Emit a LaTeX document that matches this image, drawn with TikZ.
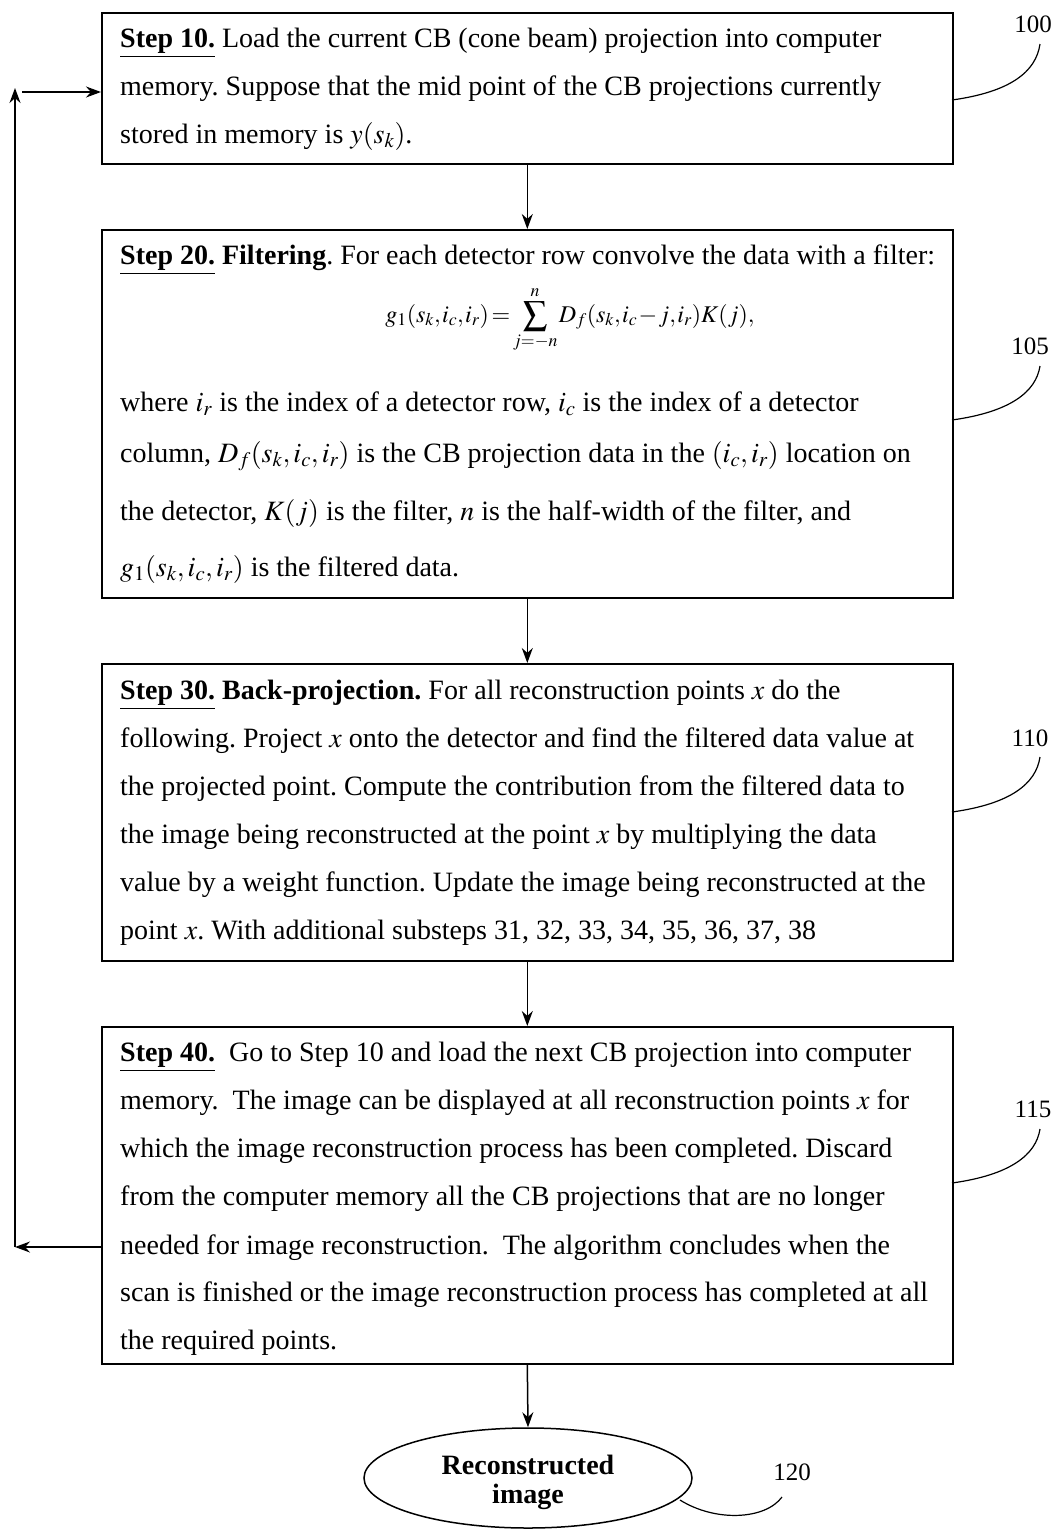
\documentclass[tikz,border=0pt]{standalone}
\usepackage{mathptmx}
\usepackage{fontspec}
\setmainfont{Liberation Serif}
\usetikzlibrary{arrows.meta,shapes.geometric}
\frenchspacing
\begin{document}
\begin{tikzpicture}[x=1pt,y=-1pt,
  box/.style={draw, line width=1.6pt, minimum width=851pt, anchor=north west, inner sep=0pt},
  ln/.style={anchor=base west, inner sep=0pt, font=\fontsize{28}{32}\selectfont},
  arr/.style={-{Stealth[length=15pt,width=11pt]}, line width=1.5pt},
  lead/.style={line width=1.2pt},
  refl/.style={font=\fontsize{25}{30}\selectfont, inner sep=0pt},
  etext/.style={font=\fontsize{28}{32}\selectfont\bfseries, inner sep=0pt}]
\useasboundingbox (0,0) rectangle (1057,1529);

% boxes
\node[box, minimum height=151pt] (b1) at (101,12) {};
\node[box, minimum height=368pt] (b2) at (101,229) {};
\node[box, minimum height=297pt] (b3) at (101,663) {};
\node[box, minimum height=337pt] (b4) at (101,1026) {};
\node[draw, ellipse, line width=1.5pt, minimum width=328pt, minimum height=100pt, inner sep=0pt] (e) at (528,1478) {};

% box 1 text
\node[ln] (t11) at (120,47) {\underline{\textbf{Step 10.}} Load the current CB (cone beam) projection into computer};
\node[ln] (t12) at (120,95) {memory. Suppose that the mid point of the CB projections currently};
\node[ln] (t13) at (120,143) {stored in memory is $y(s_k)$.};

% box 2 text
\node[ln] (t21) at (120,264) {\underline{\textbf{Step 20.}} \textbf{Filtering}. For each detector row convolve the data with a filter:};
\node[anchor=base, inner sep=0pt, font=\fontsize{24}{28}\selectfont] (t22) at (570,322) {\thickmuskip=2mu\medmuskip=1mu\thinmuskip=1mu$\displaystyle g_1(s_k,i_c,i_r)=\sum_{j=-n}^{n}D_f(s_k,i_c-j,i_r)K(j),$};
\node[ln] (t23) at (120,411) {where $i_r$ is the index of a detector row, $i_c$ is the index of a detector};
\node[ln] (t24) at (120,462) {column, $D_f(s_k,i_c,i_r)$ is the CB projection data in the $(i_c,i_r)$ location on};
\node[ln] (t25) at (120,520) {the detector, $K(j)$ is the filter, $n$ is the half-width of the filter, and};
\node[ln] (t26) at (120,576) {$g_1(s_k,i_c,i_r)$ is the filtered data.};

% box 3 text
\node[ln] (t31) at (120,699) {\underline{\textbf{Step 30.}} \textbf{Back-projection.} For all reconstruction points $x$ do the};
\node[ln] (t32) at (120,747) {following. Project $x$ onto the detector and find the filtered data value at};
\node[ln] (t33) at (120,795) {the projected point. Compute the contribution from the filtered data to};
\node[ln] (t34) at (120,843) {the image being reconstructed at the point $x$ by multiplying the data};
\node[ln] (t35) at (120,891) {value by a weight function. Update the image being reconstructed at the};
\node[ln] (t36) at (120,939) {point $x$. With additional substeps 31, 32, 33, 34, 35, 36, 37, 38};

% box 4 text
\node[ln] (t41) at (120,1061) {\underline{\textbf{Step 40.}}\ \ Go to Step 10 and load the next CB projection into computer};
\node[ln] (t42) at (120,1109) {memory.\ \ The image can be displayed at all reconstruction points $x$ for};
\node[ln] (t43) at (120,1157) {which the image reconstruction process has been completed. Discard};
\node[ln] (t44) at (120,1205) {from the computer memory all the CB projections that are no longer};
\node[ln] (t45) at (120,1254) {needed for image reconstruction.\ \ The algorithm concludes when the};
\node[ln] (t46) at (120,1301) {scan is finished or the image reconstruction process has completed at all};
\node[ln] (t47) at (120,1349) {the required points.};

% ellipse text
\node[etext] (e1) at (528,1465) {Reconstructed};
\node[etext] (e2) at (528,1497) {image};

% main arrows
\draw[arr] (b1.south) -- (b2.north);
\draw[arr] (b2.south) -- (b3.north);
\draw[arr] (b3.south) -- (b4.north);
\draw[arr] (b4.south) -- (e.north);

% feedback loop
\coordinate (lb) at (15,1247);
\coordinate (lt) at (15,88);
\coordinate (lh) at (22,92);
\draw[arr] (b4.west |- lb) -- (lb);
\draw[arr] (lb) -- (lt);
\draw[arr] (lh) -- (b1.west |- lh);

% reference labels
\node[refl] (r100) at (1033,24) {100};
\node[refl] (r105) at (1030,346) {105};
\node[refl] (r110) at (1030,738) {110};
\node[refl] (r115) at (1033,1109) {115};
\node[refl] (r120) at (792,1472) {120};
\coordinate (c100) at (952,100);
\coordinate (c105) at (952,420);
\coordinate (c110) at (952,812);
\coordinate (c115) at (952,1183);
\coordinate (c120) at (680,1500);
\draw[lead] (c100) .. controls (1010,92) and (1036,72) .. (1040,44);
\draw[lead] (c105) .. controls (1010,412) and (1036,392) .. (1040,366);
\draw[lead] (c110) .. controls (1010,804) and (1036,784) .. (1040,757);
\draw[lead] (c115) .. controls (1010,1175) and (1036,1155) .. (1040,1129);
\draw[lead] (c120) .. controls (715,1522) and (765,1520) .. (782,1497);
\end{tikzpicture}
\end{document}
